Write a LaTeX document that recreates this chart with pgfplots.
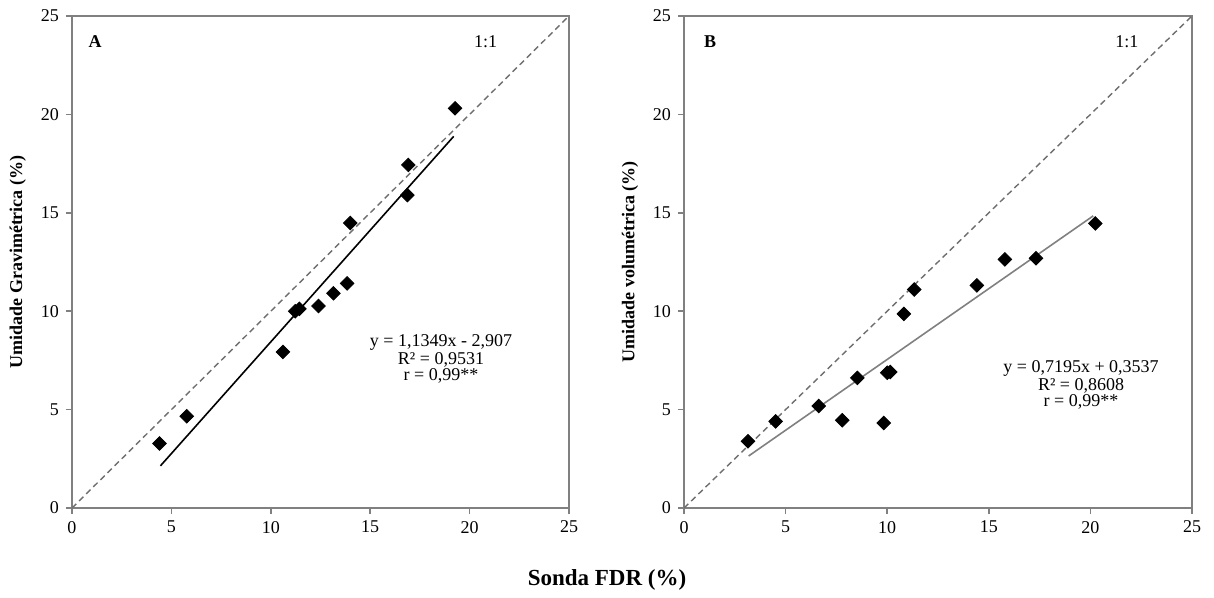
\documentclass[border=0pt]{standalone}
\usepackage{fontspec}
\setmainfont{Liberation Serif}
\usepackage{pgfplots}
\pgfplotsset{compat=1.18}
\definecolor{axgray}{RGB}{128,128,128}
\definecolor{dashgray}{RGB}{110,110,110}
\pgfplotsset{
  panel/.style={
    scale only axis,
    height=246pt,
    xmin=0, xmax=25, ymin=0, ymax=25,
    xtick={0,5,...,25}, ytick={0,5,...,25},
    axis line style={axgray, line width=1pt},
    tick style={axgray, line width=0.8pt},
    tick align=outside, major tick length=3pt,
    xtick pos=bottom, ytick pos=left,
    ticklabel style={font=\fontsize{9}{10}\selectfont},
    /pgf/number format/assume math mode=true,
    ylabel style={font=\bfseries\fontsize{9}{10}\selectfont, anchor=center},
    clip=false,
  },
  dia/.style={only marks, mark=square*, mark size=2.4pt, black, mark options={rotate=45}},
}
\begin{document}
\begin{tikzpicture}
\path (-36pt,-41.5pt) rectangle (571pt,254pt);
\begin{axis}[panel, width=248.5pt, at={(0,0)}, anchor=south west,
  ylabel={Umidade Gravimétrica (\%)},
  ylabel style={at={(axis description cs:-0.109,0.5)}}]
\addplot[dashgray, densely dashed, line width=0.7pt] coordinates {(0,0) (25,25)};
\addplot[black, line width=0.8pt] coordinates {(4.45,2.143) (19.2,18.883)};
\addplot[dia] coordinates {
(4.40,3.28) (5.77,4.66) (10.61,7.93) (11.23,10.0) (11.44,10.12)
(12.40,10.26) (13.15,10.91) (13.84,11.41) (14.00,14.48)
(16.87,15.90) (16.92,17.43) (19.27,20.31)};
\node[font=\bfseries\fontsize{9}{10}\selectfont] at (axis cs:1.16,23.7) {A};
\node[font=\fontsize{9}{10}\selectfont] at (axis cs:20.8,23.7) {1:1};
\node[font=\fontsize{9}{7.2}\selectfont, align=center] at (axis cs:18.56,7.57)
  {y = 1,1349x - 2,907\\R² = 0,9531\\r = 0,99**};
\end{axis}
\begin{axis}[panel, width=254pt, at={(306pt,0)}, anchor=south west,
  ylabel={Umidade volumétrica (\%)},
  ylabel style={at={(axis description cs:-0.106,0.5)}}]
\addplot[dashgray, densely dashed, line width=0.7pt] coordinates {(0,0) (25,25)};
\addplot[axgray, line width=0.8pt] coordinates {(3.18,2.642) (20.14,14.844)};
\addplot[dia] coordinates {
(3.15,3.39) (4.51,4.40) (6.63,5.18) (7.79,4.46) (8.53,6.61)
(9.83,4.32) (10.00,6.87) (10.15,6.91) (10.82,9.86) (11.33,11.10)
(14.41,11.31) (15.79,12.63) (17.32,12.69) (20.24,14.46)};
\node[font=\bfseries\fontsize{9}{10}\selectfont] at (axis cs:1.28,23.7) {B};
\node[font=\fontsize{9}{10}\selectfont] at (axis cs:21.8,23.7) {1:1};
\node[font=\fontsize{9}{7.2}\selectfont, align=center] at (axis cs:19.54,6.25)
  {y = 0,7195x + 0,3537\\R² = 0,8608\\r = 0,99**};
\end{axis}
\node[font=\bfseries\fontsize{11.5}{12}\selectfont] at (267.5pt,-36pt) {Sonda FDR (\%)};
\end{tikzpicture}
\end{document}
